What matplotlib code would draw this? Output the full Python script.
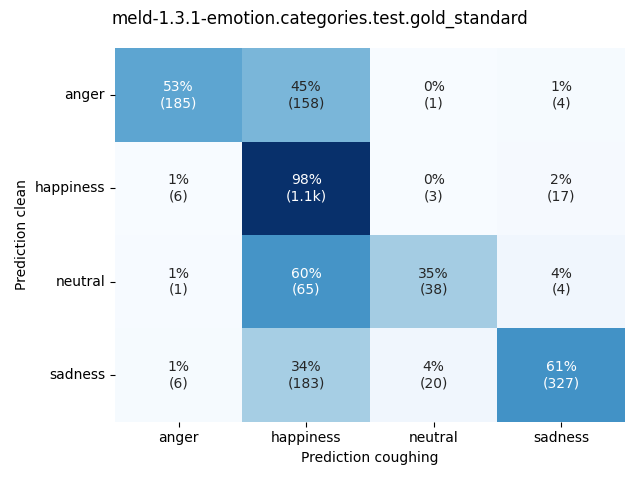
import numpy as np
import matplotlib
matplotlib.use("Agg")
from matplotlib import pyplot as plt
import seaborn as sns

labels = ['anger', 'happiness', 'neutral', 'sadness']
counts = np.array([
    [185, 158, 1, 4],
    [6, 1100, 3, 17],
    [1, 65, 38, 4],
    [6, 183, 20, 327],
])
title = 'meld-1.3.1-emotion.categories.test.gold_standard'


def fmt_count(n):
    if n >= 1000:
        return '%.1fk' % (n / 1000)
    return str(n)


perc = counts / counts.sum(axis=1, keepdims=True)
annot = [['%d%%\n(%s)' % (round(p * 100), fmt_count(c)) for p, c in zip(prow, crow)]
         for prow, crow in zip(perc, counts)]

fig, ax = plt.subplots(figsize=(6.4, 4.8), dpi=100)
sns.heatmap(perc, annot=np.array(annot), fmt='', cmap='Blues', cbar=False,
            xticklabels=labels, yticklabels=labels, ax=ax)
ax.set_yticklabels(labels, rotation=0)
ax.set_xlabel('Prediction coughing')
ax.set_ylabel('Prediction clean')
fig.suptitle(title)
plt.tight_layout()
plt.savefig('out.png')
